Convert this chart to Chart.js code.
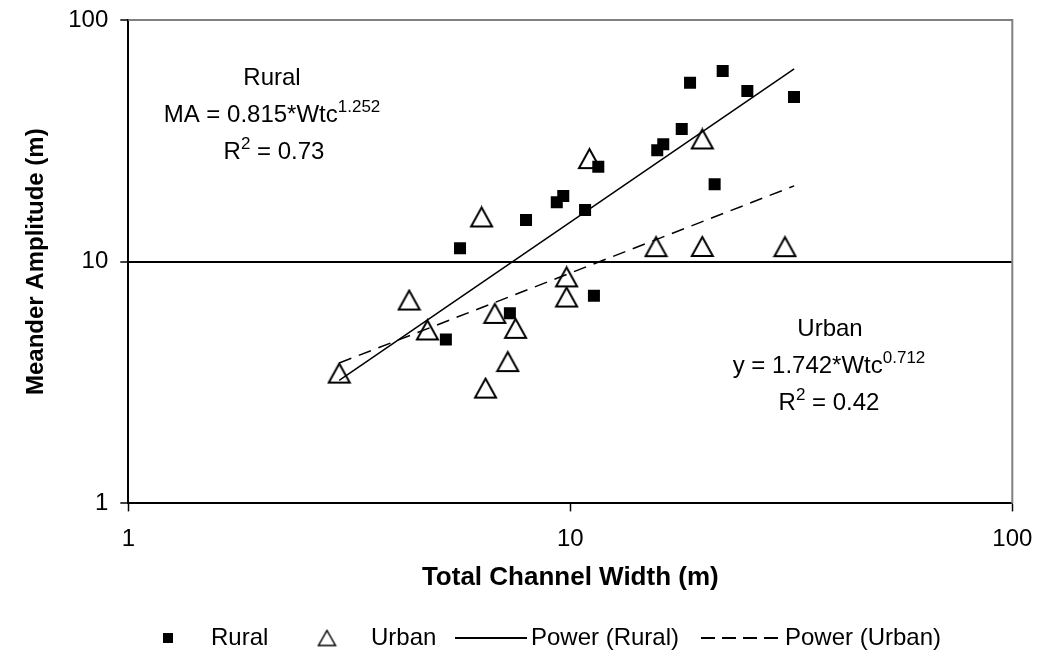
<!DOCTYPE html>
<html>
<head>
<meta charset="utf-8">
<script src="https://cdn.jsdelivr.net/npm/chart.js@4/dist/chart.umd.min.js"></script>
<style>
    html, body { margin: 0; padding: 0; background: #fff; }
    #meanderChart { display: block; }
</style>
</head>
<body>
<canvas id="meanderChart" width="1038" height="656"></canvas>
<script>
// ========== 数据 ==========
const ruralWidth = [5.63, 5.23, 7.30, 7.94, 9.32, 9.64, 10.8, 11.57, 11.31, 15.73, 16.23, 17.87, 18.66, 22.12, 25.15, 32.07, 21.21];
const ruralAmp   = [11.36, 4.77, 6.12, 14.88, 17.61, 18.70, 16.36, 24.72, 7.23, 28.9, 30.6, 35.4, 55.0, 61.5, 50.8, 48.0, 20.9];

const urbanWidth = [3.00, 4.32, 4.75, 6.30, 6.75, 7.52, 7.22, 6.43, 9.81, 9.81, 11.05, 19.89, 15.63, 19.89, 30.6];
const urbanAmp   = [3.46, 6.94, 5.22, 15.31, 6.11, 5.30, 3.86, 3.00, 8.65, 7.14, 26.7, 32.2, 11.54, 11.56, 11.54];

// 幂函数拟合 MA = a * Wtc^b
const ruralFit = { a: 0.815, b: 1.252, r2: '0.73' };
const urbanFit = { a: 1.742, b: 0.712, r2: '0.42' };
const trendRange = [3.0, 32.1];

const axisTicks = [1, 10, 100];

const FONT = "'Liberation Sans', Arial, sans-serif";

function toPoints(xs, ys) {
    return xs.map((x, i) => ({ x: x, y: ys[i] }));
}

function fitPoints(fit) {
    return trendRange.map(x => ({ x: x, y: fit.a * Math.pow(x, fit.b) }));
}

// 空心三角形标记
function makeTriangle(w, h, lw) {
    const c = document.createElement('canvas');
    c.width = w + 4;
    c.height = h + 4;
    const g = c.getContext('2d');
    g.beginPath();
    g.moveTo(c.width / 2, 2);
    g.lineTo(2 + w, 2 + h);
    g.lineTo(2, 2 + h);
    g.closePath();
    g.fillStyle = '#fff';
    g.fill();
    g.lineWidth = lw;
    g.lineJoin = 'miter';
    g.strokeStyle = '#000';
    g.stroke();
    return c;
}

const triangleMarker = makeTriangle(21, 19, 2);

// 带上标的一行文字，居中绘制
function drawRichLine(ctx, parts, cx, baseline) {
    const mainFont = '24px ' + FONT;
    const supFont = '17px ' + FONT;
    let total = 0;
    parts.forEach(p => {
        ctx.font = p.sup ? supFont : mainFont;
        p.w = ctx.measureText(p.t).width;
        total += p.w;
    });
    let x = cx - total / 2;
    ctx.textAlign = 'left';
    ctx.textBaseline = 'alphabetic';
    parts.forEach(p => {
        ctx.font = p.sup ? supFont : mainFont;
        ctx.fillText(p.t, x, p.sup ? baseline - 10 : baseline);
        x += p.w;
    });
}

// ========== 边框、方程和图例 ==========
const decorPlugin = {
    id: 'decor',
    afterDraw(chart) {
        const ctx = chart.ctx;
        const area = chart.chartArea;
        ctx.save();

        // 上、右边框
        ctx.strokeStyle = '#808080';
        ctx.lineWidth = 2;
        ctx.beginPath();
        ctx.moveTo(area.left, area.top);
        ctx.lineTo(area.right, area.top);
        ctx.lineTo(area.right, area.bottom);
        ctx.stroke();

        ctx.fillStyle = '#000';
        ctx.strokeStyle = '#000';

        // 拟合方程
        drawRichLine(ctx, [{ t: 'Rural' }], 272, 85);
        drawRichLine(ctx, [{ t: 'MA = ' + ruralFit.a + '*Wtc' }, { t: String(ruralFit.b), sup: true }], 272, 122);
        drawRichLine(ctx, [{ t: 'R' }, { t: '2', sup: true }, { t: ' = ' + ruralFit.r2 }], 274, 159);

        drawRichLine(ctx, [{ t: 'Urban' }], 830, 336);
        drawRichLine(ctx, [{ t: 'y = ' + urbanFit.a + '*Wtc' }, { t: String(urbanFit.b), sup: true }], 829, 373);
        drawRichLine(ctx, [{ t: 'R' }, { t: '2', sup: true }, { t: ' = ' + urbanFit.r2 }], 829, 410);

        // 图例
        const ly = 638;
        ctx.font = '24px ' + FONT;
        ctx.textAlign = 'left';
        ctx.textBaseline = 'middle';

        ctx.fillRect(163, ly - 5, 10, 10);
        ctx.fillText('Rural', 211, ly);

        ctx.drawImage(makeTriangle(17, 15, 1.5), 327 - 10.5, ly - 9.5);
        ctx.fillText('Urban', 371, ly);

        ctx.lineWidth = 2;
        ctx.beginPath();
        ctx.moveTo(455, ly);
        ctx.lineTo(527, ly);
        ctx.stroke();
        ctx.fillText('Power (Rural)', 531, ly);

        ctx.setLineDash([14, 7]);
        ctx.beginPath();
        ctx.moveTo(701, ly);
        ctx.lineTo(780, ly);
        ctx.stroke();
        ctx.setLineDash([]);
        ctx.fillText('Power (Urban)', 785, ly);

        ctx.restore();
    }
};

// ========== 图表 ==========
const ctx = document.getElementById('meanderChart').getContext('2d');

new Chart(ctx, {
    type: 'scatter',
    data: {
        datasets: [
            {
                label: 'Power (Rural)',
                type: 'line',
                data: fitPoints(ruralFit),
                borderColor: '#000',
                borderWidth: 1.5,
                pointRadius: 0,
                fill: false,
                order: 0
            },
            {
                label: 'Power (Urban)',
                type: 'line',
                data: fitPoints(urbanFit),
                borderColor: '#000',
                borderWidth: 1.5,
                borderDash: [13, 8],
                pointRadius: 0,
                fill: false,
                order: 0
            },
            {
                label: 'Rural',
                data: toPoints(ruralWidth, ruralAmp),
                pointStyle: 'rect',
                pointRadius: 8.5,
                backgroundColor: '#000',
                borderColor: '#000',
                borderWidth: 0,
                order: 1
            },
            {
                label: 'Urban',
                data: toPoints(urbanWidth, urbanAmp),
                pointStyle: triangleMarker,
                pointRadius: 11,
                order: 2
            }
        ]
    },
    options: {
        responsive: false,
        animation: false,
        events: [],
        layout: {
            padding: { left: 0, top: 20, right: 25.7, bottom: 60 }
        },
        plugins: {
            legend: { display: false },
            tooltip: { enabled: false }
        },
        scales: {
            x: {
                type: 'logarithmic',
                min: 1,
                max: 100,
                afterBuildTicks: scale => { scale.ticks = axisTicks.map(v => ({ value: v })); },
                afterFit: scale => {
                    scale.height = 92.6;
                    scale.paddingLeft = 0;
                    scale.paddingRight = 0;
                },
                ticks: {
                    color: '#000',
                    font: { family: FONT, size: 24 },
                    padding: 14,
                    maxRotation: 0,
                    callback: v => String(v)
                },
                grid: { drawOnChartArea: false, tickLength: 8, tickColor: '#000', tickWidth: 1.5 },
                border: { color: '#000', width: 2 },
                title: {
                    display: true,
                    text: 'Total Channel Width (m)',
                    color: '#000',
                    font: { family: FONT, size: 26, weight: 'bold' },
                    padding: { top: 0, bottom: 3 }
                }
            },
            y: {
                type: 'logarithmic',
                min: 1,
                max: 100,
                afterBuildTicks: scale => { scale.ticks = axisTicks.map(v => ({ value: v })); },
                afterFit: scale => {
                    scale.width = 128.3;
                    scale.paddingTop = 0;
                    scale.paddingBottom = 0;
                },
                ticks: {
                    color: '#000',
                    font: { family: FONT, size: 24 },
                    padding: 12,
                    callback: v => String(v)
                },
                grid: {
                    color: c => (c.tick && c.tick.value === 10 ? '#000' : 'rgba(0,0,0,0)'),
                    lineWidth: 2,
                    tickLength: 8,
                    tickColor: '#000',
                    tickWidth: 1.5
                },
                border: { color: '#000', width: 2 },
                title: {
                    display: true,
                    text: 'Meander Amplitude (m)',
                    color: '#000',
                    font: { family: FONT, size: 24, weight: 'bold' },
                    padding: { top: 22, bottom: 0 }
                }
            }
        }
    },
    plugins: [decorPlugin]
});
</script>
</body>
</html>
